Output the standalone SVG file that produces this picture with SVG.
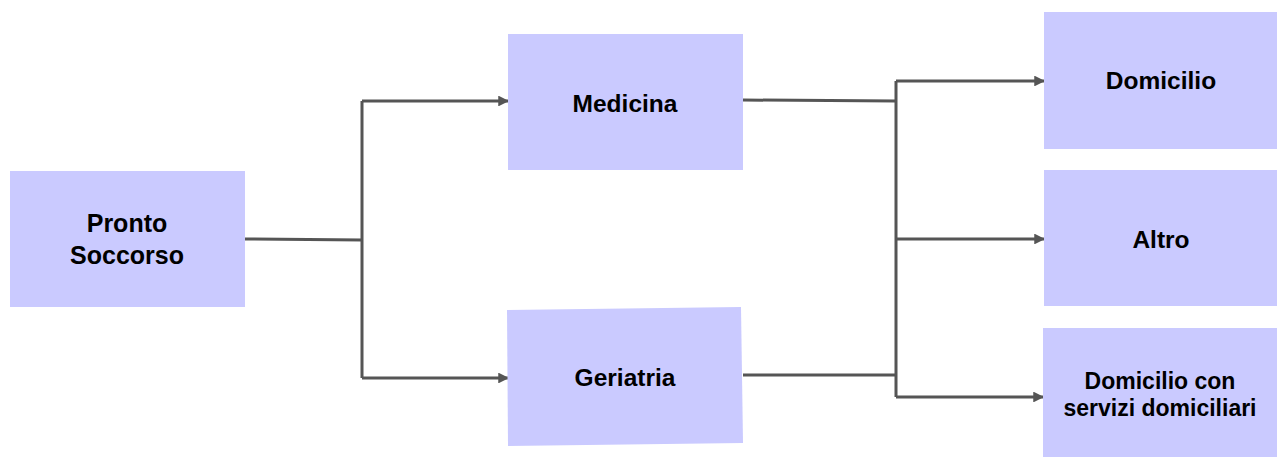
<svg xmlns="http://www.w3.org/2000/svg" width="1277" height="457" viewBox="0 0 1277 457">
  <style>
    .box { fill: #cacaff; }
    .label { font-family: "Liberation Sans", Arial, sans-serif; font-weight: 700; font-size: 24.5px; fill: #000; text-anchor: middle; dominant-baseline: central; }
    .big { font-size: 25px; }
    .small { font-size: 23px; }
    .wire { fill: none; stroke: #555; stroke-width: 3; }
  </style>
  <defs>
    <marker id="arrow" viewBox="0 0 10 10" refX="9" refY="5" markerWidth="3.6" markerHeight="3.6" markerUnits="strokeWidth" orient="auto">
      <path d="M0,0 L10,5 L0,10 Z" fill="#555"/>
    </marker>
  </defs>

  <g id="connectors">
    <path class="wire" d="M245,239 L362,240"/>
    <path class="wire" d="M362,101 L362,378"/>
    <path class="wire" d="M362,101 L508,101" marker-end="url(#arrow)"/>
    <path class="wire" d="M362,378 L508,378" marker-end="url(#arrow)"/>
    <path class="wire" d="M743,100 L896,101"/>
    <path class="wire" d="M743,375 L896,375"/>
    <path class="wire" d="M896,81 L896,397"/>
    <path class="wire" d="M896,81 L1044,81" marker-end="url(#arrow)"/>
    <path class="wire" d="M896,239 L1044,239" marker-end="url(#arrow)"/>
    <path class="wire" d="M896,397 L1043,397" marker-end="url(#arrow)"/>
  </g>

  <g id="pronto-soccorso">
    <rect class="box" x="10" y="171" width="235" height="136"/>
    <text class="label big" x="127" y="223">Pronto</text>
    <text class="label big" x="127" y="255">Soccorso</text>
  </g>

  <g id="medicina">
    <rect class="box" x="508" y="34" width="235" height="136"/>
    <text class="label" x="625" y="103">Medicina</text>
  </g>

  <g id="geriatria">
    <polygon class="box" points="507,310 741,307 743,443 508,446"/>
    <text class="label" x="625" y="377">Geriatria</text>
  </g>

  <g id="domicilio">
    <rect class="box" x="1044" y="12" width="233" height="137"/>
    <text class="label" x="1161" y="80">Domicilio</text>
  </g>

  <g id="altro">
    <rect class="box" x="1044" y="170" width="233" height="136"/>
    <text class="label" x="1161" y="239">Altro</text>
  </g>

  <g id="domicilio-servizi">
    <rect class="box" x="1043" y="328" width="234" height="129"/>
    <text class="label small" x="1160" y="381">Domicilio con</text>
    <text class="label small" x="1160" y="408">servizi domiciliari</text>
  </g>
</svg>
